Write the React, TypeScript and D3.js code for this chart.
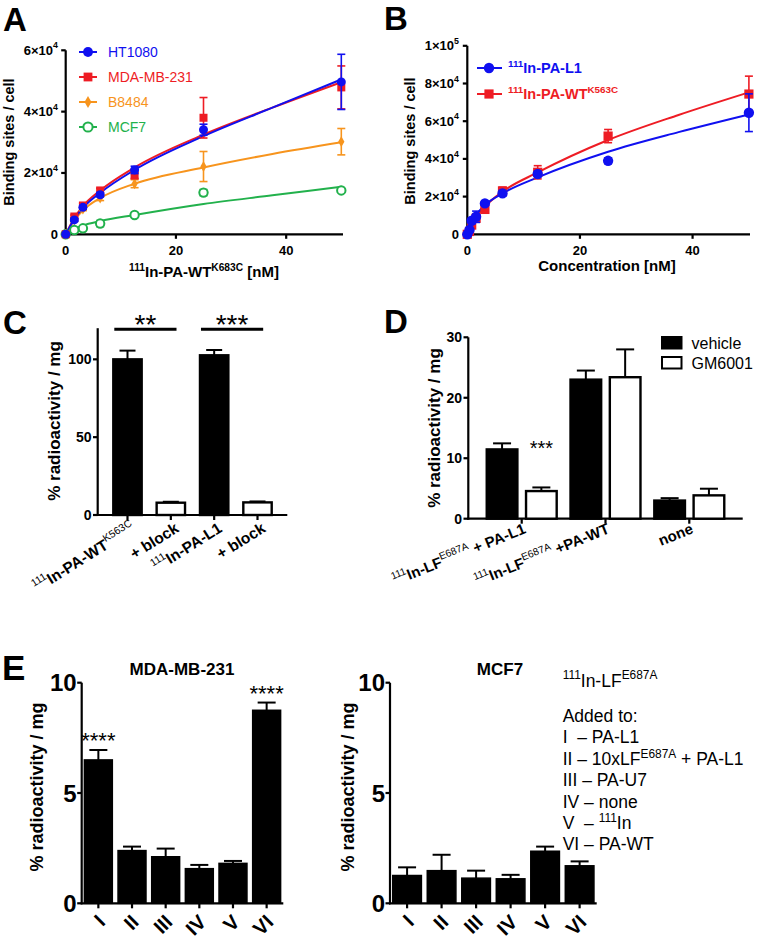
import React from "react";
import * as d3 from "d3";

const FF = "'Liberation Sans', Arial, Helvetica, sans-serif";

// ---------- Panel A data ----------
const concA = [0, 1.5625, 3.125, 6.25, 12.5, 25, 50];
const namesA = ["HT1080", "MDA-MB-231", "B8484", "MCF7"];
const colorsA = ["#1010f0", "#ee1c24", "#f7941d", "#22b14c"];
const markersA = ["circle", "square", "diamond", "open"];
const ht1080 = [0, 4700, 8800, 12900, 21000, 34100, 49700];
const ht1080Err = [0, 500, 600, 700, 1200, 1800, 9000];
const mda = [0, 5800, 9400, 14300, 19200, 38000, 47900];
const mdaErr = [0, 500, 700, 700, 1000, 6600, 7000];
const b8484 = [0, 4700, 8200, 11800, 16500, 22100, 30200];
const b8484Err = [0, 400, 500, 800, 1300, 4900, 4300];
const mcf7A = [0, 1400, 1950, 3500, 6300, 13600, 14300];
const mcf7AErr = [0, 400, 400, 1000, 500, 1000, 500];
const fitXA = [0, 1.5625, 3.125, 6.25, 12.5, 25, 37.5, 50];
const fitHT = [0, 4900, 8600, 13500, 21000, 32000, 41300, 50500];
const fitMDA = [0, 5300, 9200, 14300, 21800, 32500, 41300, 49600];
const fitB8484 = [0, 4500, 7800, 11800, 16500, 21800, 26200, 30000];
const fitMCF7 = [0, 1800, 2900, 4300, 6300, 9900, 12700, 15500];
const yTicksA = [0, 20000, 40000, 60000];
const yTickLabelsA = ["0", "2×10{4}", "4×10{4}", "6×10{4}"];
const xTicksA = [0, 20, 40];

// ---------- Panel B data ----------
const concB = [0, 0.39, 0.78, 1.5625, 3.125, 6.25, 12.5, 25, 50];
const namesB = ["{111}In-PA-L1", "{111}In-PA-WT{K563C}"];
const colorsB = ["#1010f0", "#ee1c24"];
const paL1 = [0, 2300, 7200, 9300, 16400, 21700, 32000, 39000, 64500];
const paL1Err = [0, 500, 1500, 3000, 1000, 1500, 1500, 1500, 10000];
const paWT = [0, 1500, 4900, 8500, 13200, 23000, 32900, 52100, 74400];
const paWTErr = [0, 500, 1500, 2000, 1000, 2000, 3500, 3500, 9500];
const fitXB = [0, 0.78, 1.5625, 3.125, 6.25, 12.5, 25, 37.5, 50];
const fitL1 = [0, 6200, 10200, 15500, 21700, 30200, 43800, 54200, 63600];
const fitWT = [0, 5000, 9000, 14700, 22600, 32800, 50000, 63300, 75300];
const yTicksB = [0, 20000, 40000, 60000, 80000, 100000];
const yTickLabelsB = ["0", "2×10{4}", "4×10{4}", "6×10{4}", "8×10{4}", "1×10{5}"];
const xTicksB = [0, 20, 40];

// ---------- Panel C data ----------
const catsC = ["{111}In-PA-WT{K563C}", "+ block", "{111}In-PA-L1", "+ block"];
const valsC = [100, 7.9, 102.6, 8.1];
const errsC = [5.6, 0.6, 3.4, 0.6];
const fillsC = ["#000", "#fff", "#000", "#fff"];
const yTicksC = [0, 50, 100];

// ---------- Panel D data ----------
const groupsD = ["{111}In-LF{E687A} + PA-L1", "{111}In-LF{E687A} +PA-WT", "none"];
const seriesD = ["vehicle", "GM6001"];
const vehicleD = [11.46, 23.0, 3.0];
const vehicleErrD = [1.0, 1.5, 0.4];
const gmD = [4.57, 23.4, 3.86];
const gmErrD = [0.6, 4.6, 1.1];
const yTicksD = [0, 10, 20, 30];

// ---------- Panel E data ----------
const catsE = ["I", "II", "III", "IV", "V", "VI"];
const mdaE = [6.5, 2.39, 2.11, 1.57, 1.81, 8.75];
const mdaErrE = [0.45, 0.18, 0.37, 0.17, 0.11, 0.35];
const mcfE = [1.26, 1.48, 1.14, 1.11, 2.36, 1.7];
const mcfErrE = [0.37, 0.72, 0.34, 0.18, 0.21, 0.2];
const yTicksE = [0, 5, 10];
const legendE = [
  "{111}In-LF{E687A}",
  "",
  "Added to:",
  "I  – PA-L1",
  "II – 10xLF{E687A} + PA-L1",
  "III – PA-U7",
  "IV – none",
  "V  – {111}In",
  "VI – PA-WT",
];

// ---------- helpers ----------
function parse(s: string) {
  const out: { t: string; sup: boolean }[] = [];
  const re = /\{([^}]*)\}|([^{]+)/g;
  let m: RegExpExecArray | null;
  while ((m = re.exec(s))) {
    if (m[1] !== undefined) out.push({ t: m[1], sup: true });
    else out.push({ t: m[2], sup: false });
  }
  return out;
}

function RT(props: any) {
  const {
    x, y, s, fs, anchor = "start", weight = "bold", fill = "#000", rotate,
    supScale = 0.68, supShift = 0.42, supWeight,
  } = props;
  const segs = parse(s);
  let cur = 0;
  return (
    <text
      x={x}
      y={y}
      fontSize={fs}
      fontWeight={weight}
      fill={fill}
      textAnchor={anchor}
      xmlSpace="preserve"
      style={{ whiteSpace: "pre" }}
      transform={rotate !== undefined ? `rotate(${rotate},${x},${y})` : undefined}
    >
      {segs.map((g, i) => {
        const t = g.sup ? -fs * supShift : 0;
        const dy = t - cur;
        cur = t;
        return (
          <tspan
            key={i}
            dy={dy !== 0 ? dy : undefined}
            fontSize={g.sup ? fs * supScale : fs}
            fontWeight={g.sup && supWeight ? supWeight : undefined}
          >
            {g.t}
          </tspan>
        );
      })}
    </text>
  );
}

function Marker({ type, cx, cy, color, size = 1 }: any) {
  if (type === "circle") return <circle cx={cx} cy={cy} r={4.5 * size} fill={color} />;
  if (type === "square")
    return <rect x={cx - 4 * size} y={cy - 4 * size} width={8 * size} height={8 * size} fill={color} />;
  if (type === "diamond") {
    const p = d3.symbol().type(d3.symbolDiamond).size(34 * size * size)();
    return <path d={p || ""} transform={`translate(${cx},${cy})`} fill={color} />;
  }
  return <circle cx={cx} cy={cy} r={4.2 * size} fill="#fff" stroke={color} strokeWidth={2} />;
}

const AX = 2.2;

function PanelLabel({ x, y, t, fs = 33 }: any) {
  return (
    <text x={x} y={y} fontSize={fs} fontWeight="bold">
      {t}
    </text>
  );
}

// ---------- Panel A ----------
function PanelA() {
  const x = d3.scaleLinear().domain([0, 50]).range([65.7, 341.3]);
  const y = d3.scaleLinear().domain([0, 60000]).range([234.3, 50.3]);
  const vals = [ht1080, mda, b8484, mcf7A];
  const errs = [ht1080Err, mdaErr, b8484Err, mcf7AErr];
  const fits = [fitHT, fitMDA, fitB8484, fitMCF7];
  const line = d3
    .line<[number, number]>()
    .x((d) => x(d[0]))
    .y((d) => y(d[1]))
    .curve(d3.curveMonotoneX);
  const order = [3, 2, 1, 0];
  return (
    <g>
      <PanelLabel x={3} y={30.5} t="A" />
      <line x1={x(0)} x2={x(0)} y1={y(60000)} y2={y(0) + 1} stroke="#000" strokeWidth={AX} />
      <line x1={x(0) - 1} x2={343} y1={y(0)} y2={y(0)} stroke="#000" strokeWidth={AX} />
      {yTicksA.map((t, i) => (
        <g key={"ya" + i}>
          <line x1={x(0) - 4.5} x2={x(0)} y1={y(t)} y2={y(t)} stroke="#000" strokeWidth={AX} />
          <RT x={58} y={y(t) + 4.5} s={yTickLabelsA[i]} fs={13} anchor="end" supShift={0.5} />
        </g>
      ))}
      {xTicksA.map((t, i) => (
        <g key={"xa" + i}>
          <line x1={x(t)} x2={x(t)} y1={y(0)} y2={y(0) + 4.5} stroke="#000" strokeWidth={AX} />
          <text x={x(t)} y={255} fontSize={13} fontWeight="bold" textAnchor="middle">
            {t}
          </text>
        </g>
      ))}
      <RT x={204} y={277} s="{111}In-PA-WT{K683C} [nM]" fs={15} anchor="middle" />
      <text
        x={14}
        y={142}
        fontSize={14.5}
        fontWeight="bold"
        textAnchor="middle"
        transform="rotate(-90,14,142)"
      >
        Binding sites / cell
      </text>
      {order.map((si) => (
        <path
          key={"fa" + si}
          d={line(fitXA.map((v, i) => [v, fits[si][i]]) as [number, number][]) || ""}
          fill="none"
          stroke={colorsA[si]}
          strokeWidth={2}
        />
      ))}
      {order.map((si) => (
        <g key={"pa" + si}>
          {concA.map((c, i) =>
            errs[si][i] > 0 ? (
              <g key={i} stroke={colorsA[si]} strokeWidth={1.6}>
                <line x1={x(c)} x2={x(c)} y1={y(vals[si][i] - errs[si][i])} y2={y(vals[si][i] + errs[si][i])} />
                <line x1={x(c) - 4} x2={x(c) + 4} y1={y(vals[si][i] + errs[si][i])} y2={y(vals[si][i] + errs[si][i])} />
                <line x1={x(c) - 4} x2={x(c) + 4} y1={y(vals[si][i] - errs[si][i])} y2={y(vals[si][i] - errs[si][i])} />
              </g>
            ) : null
          )}
          {concA.map((c, i) => (
            <Marker key={"m" + i} type={markersA[si]} cx={x(c)} cy={y(vals[si][i])} color={colorsA[si]} />
          ))}
        </g>
      ))}
      {namesA.map((n, i) => {
        const ly = 52 + i * 25;
        return (
          <g key={"la" + i}>
            <line x1={79} x2={97} y1={ly} y2={ly} stroke={colorsA[i]} strokeWidth={2} />
            <Marker type={markersA[i]} cx={88} cy={ly} color={colorsA[i]} size={1.1} />
            <text x={108} y={ly + 5} fontSize={14} fill={colorsA[i]}>
              {n}
            </text>
          </g>
        );
      })}
    </g>
  );
}

// ---------- Panel B ----------
function PanelB() {
  const x = d3.scaleLinear().domain([0, 50]).range([467.3, 748.9]);
  const y = d3.scaleLinear().domain([0, 100000]).range([234.3, 45.8]);
  const vals = [paL1, paWT];
  const errs = [paL1Err, paWTErr];
  const fits = [fitL1, fitWT];
  const markers = ["circle", "square"];
  const line = d3
    .line<[number, number]>()
    .x((d) => x(d[0]))
    .y((d) => y(d[1]))
    .curve(d3.curveMonotoneX);
  const order = [1, 0];
  return (
    <g>
      <PanelLabel x={384} y={30} t="B" />
      <line x1={x(0)} x2={x(0)} y1={y(100000)} y2={y(0) + 1} stroke="#000" strokeWidth={AX} />
      <line x1={x(0) - 1} x2={750} y1={y(0)} y2={y(0)} stroke="#000" strokeWidth={AX} />
      {yTicksB.map((t, i) => (
        <g key={"yb" + i}>
          <line x1={x(0) - 4.5} x2={x(0)} y1={y(t)} y2={y(t)} stroke="#000" strokeWidth={AX} />
          <RT x={459} y={y(t) + 4.5} s={yTickLabelsB[i]} fs={13} anchor="end" supShift={0.5} />
        </g>
      ))}
      {xTicksB.map((t, i) => (
        <g key={"xb" + i}>
          <line x1={x(t)} x2={x(t)} y1={y(0)} y2={y(0) + 4.5} stroke="#000" strokeWidth={AX} />
          <text x={x(t)} y={255} fontSize={13} fontWeight="bold" textAnchor="middle">
            {t}
          </text>
        </g>
      ))}
      <text x={607} y={271} fontSize={15} fontWeight="bold" textAnchor="middle">
        Concentration [nM]
      </text>
      <text
        x={414.5}
        y={141}
        fontSize={14.5}
        fontWeight="bold"
        textAnchor="middle"
        transform="rotate(-90,414.5,141)"
      >
        Binding sites / cell
      </text>
      {order.map((si) => (
        <path
          key={"fb" + si}
          d={line(fitXB.map((v, i) => [v, fits[si][i]]) as [number, number][]) || ""}
          fill="none"
          stroke={colorsB[si]}
          strokeWidth={2}
        />
      ))}
      {order.map((si) => (
        <g key={"pb" + si}>
          {concB.map((c, i) =>
            errs[si][i] > 0 ? (
              <g key={i} stroke={colorsB[si]} strokeWidth={1.6}>
                <line x1={x(c)} x2={x(c)} y1={y(vals[si][i] - errs[si][i])} y2={y(vals[si][i] + errs[si][i])} />
                <line x1={x(c) - 4} x2={x(c) + 4} y1={y(vals[si][i] + errs[si][i])} y2={y(vals[si][i] + errs[si][i])} />
                <line x1={x(c) - 4} x2={x(c) + 4} y1={y(vals[si][i] - errs[si][i])} y2={y(vals[si][i] - errs[si][i])} />
              </g>
            ) : null
          )}
          {concB.map((c, i) => (
            <Marker key={"m" + i} type={markers[si]} cx={x(c)} cy={y(vals[si][i])} color={colorsB[si]} size={1.15} />
          ))}
        </g>
      ))}
      {namesB.map((n, i) => {
        const ly = 68 + i * 26;
        return (
          <g key={"lb" + i}>
            <line x1={477} x2={502} y1={ly} y2={ly} stroke={colorsB[i]} strokeWidth={2} />
            <Marker type={markers[i]} cx={489} cy={ly} color={colorsB[i]} size={1.15} />
            <RT x={508} y={ly + 5} s={n} fs={14.5} fill={colorsB[i]} />
          </g>
        );
      })}
    </g>
  );
}

// ---------- Panel C ----------
function PanelC() {
  const y = d3.scaleLinear().domain([0, 120]).range([515, 328.2]);
  const x = d3
    .scaleBand<number>()
    .domain(d3.range(catsC.length))
    .range([97.7, 287.3])
    .paddingInner(0.345)
    .paddingOuter(0.36);
  const bw = x.bandwidth();
  const sig = [
    { a: 0, b: 1, t: "**" },
    { a: 2, b: 3, t: "***" },
  ];
  return (
    <g>
      <PanelLabel x={3} y={334} t="C" />
      <line x1={97.7} x2={97.7} y1={y(120)} y2={y(0) + 1} stroke="#000" strokeWidth={AX} />
      <line x1={96.6} x2={287.3} y1={y(0)} y2={y(0)} stroke="#000" strokeWidth={AX} />
      {yTicksC.map((t) => (
        <g key={"yc" + t}>
          <line x1={93} x2={97.7} y1={y(t)} y2={y(t)} stroke="#000" strokeWidth={AX} />
          <text x={91.5} y={y(t) + 5} fontSize={14} fontWeight="bold" textAnchor="end">
            {t}
          </text>
        </g>
      ))}
      <text x={60} y={421} fontSize={17} fontWeight="bold" textAnchor="middle" transform="rotate(-90,60,421)">
        % radioactivity / mg
      </text>
      {valsC.map((v, i) => {
        const x0 = x(i) as number;
        const cx = x0 + bw / 2;
        return (
          <g key={"bc" + i}>
            <line x1={cx} x2={cx} y1={y(v)} y2={y(v + errsC[i])} stroke="#000" strokeWidth={2} />
            <line x1={cx - 8} x2={cx + 8} y1={y(v + errsC[i])} y2={y(v + errsC[i])} stroke="#000" strokeWidth={2} />
            <rect x={x0} y={y(v)} width={bw} height={y(0) - y(v)} fill={fillsC[i]} stroke="#000" strokeWidth={2.4} />
            <line x1={cx} x2={cx} y1={y(0)} y2={y(0) + 5} stroke="#000" strokeWidth={AX} />
            <RT
              x={cx + 9}
              y={y(0) + 16}
              s={catsC[i]}
              fs={15.5}
              anchor="end"
              rotate={-32}
              supWeight="normal"
              supShift={0.45}
            />
          </g>
        );
      })}
      {sig.map((s, i) => {
        const xa = (x(s.a) as number) + 1;
        const xb = (x(s.b) as number) + bw * 0.7;
        return (
          <g key={"sc" + i}>
            <line x1={xa} x2={xb} y1={329.3} y2={329.3} stroke="#000" strokeWidth={3} />
            <text x={(xa + xb) / 2} y={334} fontSize={28} textAnchor="middle">
              {s.t}
            </text>
          </g>
        );
      })}
    </g>
  );
}

// ---------- Panel D ----------
function PanelD() {
  const y = d3.scaleLinear().domain([0, 30]).range([518.7, 337.3]);
  const x0 = d3
    .scaleBand<number>()
    .domain(d3.range(groupsD.length))
    .range([468.3, 742.7])
    .paddingInner(0.165)
    .paddingOuter(0.22);
  const x1 = d3.scaleBand<number>().domain([0, 1]).range([0, x0.bandwidth()]).paddingInner(0.22);
  const vals = [vehicleD, gmD];
  const errs = [vehicleErrD, gmErrD];
  const fills = ["#000", "#fff"];
  const bw = x1.bandwidth();
  return (
    <g>
      <PanelLabel x={384} y={333} t="D" />
      <line x1={468.3} x2={468.3} y1={y(30)} y2={y(0) + 1} stroke="#000" strokeWidth={AX} />
      <line x1={467.2} x2={742.7} y1={y(0)} y2={y(0)} stroke="#000" strokeWidth={AX} />
      {yTicksD.map((t) => (
        <g key={"yd" + t}>
          <line x1={463.5} x2={468.3} y1={y(t)} y2={y(t)} stroke="#000" strokeWidth={AX} />
          <text x={462} y={y(t) + 5} fontSize={14} fontWeight="bold" textAnchor="end">
            {t}
          </text>
        </g>
      ))}
      <text x={440} y={428} fontSize={17} fontWeight="bold" textAnchor="middle" transform="rotate(-90,440,428)">
        % radioactivity / mg
      </text>
      {groupsD.map((g, gi) => {
        const gx = x0(gi) as number;
        const gc = gx + x0.bandwidth() / 2;
        return (
          <g key={"gd" + gi}>
            {[0, 1].map((si) => {
              const bx = gx + (x1(si) as number);
              const cx = bx + bw / 2;
              const v = vals[si][gi];
              const e = errs[si][gi];
              return (
                <g key={si}>
                  <line x1={cx} x2={cx} y1={y(v)} y2={y(v + e)} stroke="#000" strokeWidth={2} />
                  <line x1={cx - 9} x2={cx + 9} y1={y(v + e)} y2={y(v + e)} stroke="#000" strokeWidth={2} />
                  <rect x={bx} y={y(v)} width={bw} height={y(0) - y(v)} fill={fills[si]} stroke="#000" strokeWidth={2.4} />
                </g>
              );
            })}
            <line x1={gc} x2={gc} y1={y(0)} y2={y(0) + 5} stroke="#000" strokeWidth={AX} />
            <RT
              x={gc + 5}
              y={y(0) + 14}
              s={g}
              fs={15}
              anchor="end"
              rotate={-22}
              supWeight="normal"
              supShift={0.45}
            />
          </g>
        );
      })}
      <text
        x={(x0(0) as number) + (x1(1) as number) + bw / 2}
        y={455}
        fontSize={20}
        textAnchor="middle"
      >
        ***
      </text>
      {seriesD.map((s, i) => (
        <g key={"ld" + i}>
          <rect x={662} y={337 + i * 20} width={19.5} height={11.5} fill={fills[i]} stroke="#000" strokeWidth={2} />
          <text x={691.5} y={348.5 + i * 20} fontSize={16}>
            {s}
          </text>
        </g>
      ))}
    </g>
  );
}

// ---------- Panel E ----------
function PanelEChart(props: any) {
  const { axisX, xEnd, vals, errs, title, titleX, ylabX, stars } = props;
  const y = d3.scaleLinear().domain([0, 10]).range([903.3, 682.7]);
  const x = d3
    .scaleBand<number>()
    .domain(d3.range(catsE.length))
    .range([axisX, xEnd])
    .paddingInner(0.17)
    .paddingOuter(0.08);
  const bw = x.bandwidth();
  return (
    <g>
      <line x1={axisX} x2={axisX} y1={y(10)} y2={y(0) + 1} stroke="#000" strokeWidth={AX} />
      <line x1={axisX - 1} x2={xEnd} y1={y(0)} y2={y(0)} stroke="#000" strokeWidth={AX} />
      {yTicksE.map((t) => (
        <g key={"ye" + t}>
          <line x1={axisX - 4.5} x2={axisX} y1={y(t)} y2={y(t)} stroke="#000" strokeWidth={AX} />
          <text x={axisX - 5} y={y(t) + 8.5} fontSize={24} fontWeight="bold" textAnchor="end">
            {t}
          </text>
        </g>
      ))}
      <text x={titleX} y={674.5} fontSize={17} fontWeight="bold" textAnchor="middle">
        {title}
      </text>
      <text x={ylabX} y={787} fontSize={18} fontWeight="bold" textAnchor="middle" transform={`rotate(-90,${ylabX},787)`}>
        % radioactivity / mg
      </text>
      {vals.map((v: number, i: number) => {
        const bx = x(i) as number;
        const cx = bx + bw / 2;
        const e = errs[i];
        return (
          <g key={"be" + i}>
            <line x1={cx} x2={cx} y1={y(v)} y2={y(v + e)} stroke="#000" strokeWidth={2} />
            <line x1={cx - 9} x2={cx + 9} y1={y(v + e)} y2={y(v + e)} stroke="#000" strokeWidth={2} />
            <rect x={bx} y={y(v)} width={bw} height={y(0) - y(v)} fill="#000" stroke="#000" strokeWidth={1.5} />
            <line x1={cx} x2={cx} y1={y(0)} y2={y(0) + 5} stroke="#000" strokeWidth={AX} />
            <text
              x={cx + 8}
              y={y(0) + 20}
              fontSize={20}
              fontWeight="bold"
              textAnchor="end"
              transform={`rotate(-45,${cx + 8},${y(0) + 20})`}
            >
              {catsE[i]}
            </text>
            {stars && stars[i] ? (
              <text x={cx} y={y(v + e) - 2} fontSize={22} textAnchor="middle">
                {stars[i]}
              </text>
            ) : null}
          </g>
        );
      })}
    </g>
  );
}

function PanelE() {
  return (
    <g>
      <PanelLabel x={2} y={680} t="E" fs={35} />
      <PanelEChart
        axisX={81.7}
        xEnd={283.3}
        vals={mdaE}
        errs={mdaErrE}
        title="MDA-MB-231"
        titleX={182}
        ylabX={42.5}
        stars={["****", "", "", "", "", "****"]}
      />
      <PanelEChart
        axisX={390}
        xEnd={596.7}
        vals={mcfE}
        errs={mcfErrE}
        title="MCF7"
        titleX={500}
        ylabX={354}
        stars={null}
      />
      {legendE.map((l, i) => {
        const baselines = [686.7, 0, 721.7, 743.3, 765, 786.4, 807.7, 829.1, 850.4];
        if (!l) return null;
        return <RT key={"le" + i} x={562.7} y={baselines[i]} s={l} fs={17.5} weight="normal" supShift={0.42} />;
      })}
    </g>
  );
}

export default function App() {
  return (
    <svg
      width={757}
      height={939}
      style={{ position: "absolute", left: 0, top: 0, display: "block", background: "#fff" }}
      fontFamily={FF}
    >
      <rect x={0} y={0} width={757} height={939} fill="#fff" />
      <PanelA />
      <PanelB />
      <PanelC />
      <PanelD />
      <PanelE />
    </svg>
  );
}
